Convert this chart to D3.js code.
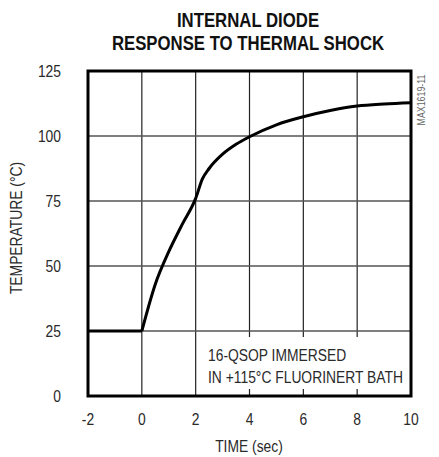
<!DOCTYPE html>
<html>
<head>
<meta charset="utf-8">
<script src="https://cdn.jsdelivr.net/npm/d3@7"></script>
<style>
  body { margin: 0; background: #fff; }
  svg text { font-family: "Liberation Sans", Arial, sans-serif; fill: #2a2a2a; }
</style>
</head>
<body>
<svg id="chart" width="439" height="457"></svg>
<script>
// values
var timeSec = [-2, 0, 0.5, 1.0, 1.5, 2.0, 2.25, 2.5, 3, 3.5, 4, 5, 6, 7, 8, 9, 10];
var tempC   = [25, 25, 43, 55.5, 66, 76, 83.5, 87.5, 93, 96.8, 99.7, 104.3, 107.4, 109.8, 111.5, 112.3, 112.8];
var xTicks = [-2, 0, 2, 4, 6, 8, 10];
var yTicks = [0, 25, 50, 75, 100, 125];
var titleLines = ["INTERNAL DIODE", "RESPONSE TO THERMAL SHOCK"];
var noteLines = ["16-QSOP IMMERSED", "IN +115\u00B0C FLUORINERT BATH"];

var svg = d3.select("#chart");
var pLeft = 88, pRight = 411, pTop = 71, pBottom = 396;
var narrow = 0.84; // squeeze text to look like a narrow face

var x = d3.scaleLinear().domain([-2, 10]).range([pLeft, pRight]);
var y = d3.scaleLinear().domain([0, 125]).range([pBottom, pTop]);

function place(px, py, rot, sx) {
    return "translate(" + px + "," + py + ")" + (rot ? " rotate(" + rot + ")" : "") + " scale(" + (sx || narrow) + ",1)";
}

// title
svg.selectAll(".title").data(titleLines).enter().append("text")
    .attr("transform", function(d, i) { return place(248, 27 + i * 23, 0, 0.86); })
    .attr("text-anchor", "middle").attr("font-size", 19.5).attr("font-weight", "bold")
    .style("fill", "#111").text(function(d) { return d; });

// grid
svg.selectAll(".vgrid").data(xTicks.slice(1, -1)).enter().append("line")
    .attr("x1", function(d) { return x(d); }).attr("x2", function(d) { return x(d); })
    .attr("y1", pTop).attr("y2", pBottom).attr("stroke", "#222").attr("stroke-width", 1.2);
svg.selectAll(".hgrid").data(yTicks.slice(1, -1)).enter().append("line")
    .attr("x1", pLeft).attr("x2", pRight)
    .attr("y1", function(d) { return y(d); }).attr("y2", function(d) { return y(d); })
    .attr("stroke", "#555").attr("stroke-width", 1.3);

// white box behind the note
svg.append("rect").attr("x", 203).attr("y", 337).attr("width", 206).attr("height", 52).attr("fill", "#fff");

// curve: flat part straight, the rise smoothed
var pts = timeSec.map(function(t, i) { return [t, tempC[i]]; });
var line = d3.line().x(function(d) { return x(d[0]); }).y(function(d) { return y(d[1]); });
svg.append("path").attr("d", line(pts.slice(0, 2)))
    .attr("fill", "none").attr("stroke", "#000").attr("stroke-width", 3);
svg.append("path").attr("d", line.curve(d3.curveMonotoneX)(pts.slice(1)))
    .attr("fill", "none").attr("stroke", "#000").attr("stroke-width", 3).attr("stroke-linejoin", "round");

// frame
svg.append("rect").attr("x", pLeft).attr("y", pTop).attr("width", pRight - pLeft).attr("height", pBottom - pTop)
    .attr("fill", "none").attr("stroke", "#000").attr("stroke-width", 3);

// tick labels
svg.selectAll(".xt").data(xTicks).enter().append("text")
    .attr("transform", function(d) { return place(x(d), 425); })
    .attr("text-anchor", "middle").attr("font-size", 16.5).text(function(d) { return d; });
svg.selectAll(".yt").data(yTicks).enter().append("text")
    .attr("transform", function(d) { return place(61, y(d) + 6); })
    .attr("text-anchor", "end").attr("font-size", 16.5).text(function(d) { return d; });

// axis titles
svg.append("text").attr("transform", place(249, 452)).attr("text-anchor", "middle")
    .attr("font-size", 16.5).text("TIME (sec)");
svg.append("text").attr("transform", place(22, 228, -90)).attr("text-anchor", "middle")
    .attr("font-size", 16.5).text("TEMPERATURE (\u00B0C)");

// note
svg.selectAll(".note").data(noteLines).enter().append("text")
    .attr("transform", function(d, i) { return place(208, 361 + i * 22); })
    .attr("font-size", 16.5).text(function(d) { return d; });

// figure code
svg.append("text").attr("transform", place(425, 100, -90)).attr("text-anchor", "middle")
    .attr("font-size", 10.5).style("fill", "#666").text("MAX1619-11");
</script>
</body>
</html>
